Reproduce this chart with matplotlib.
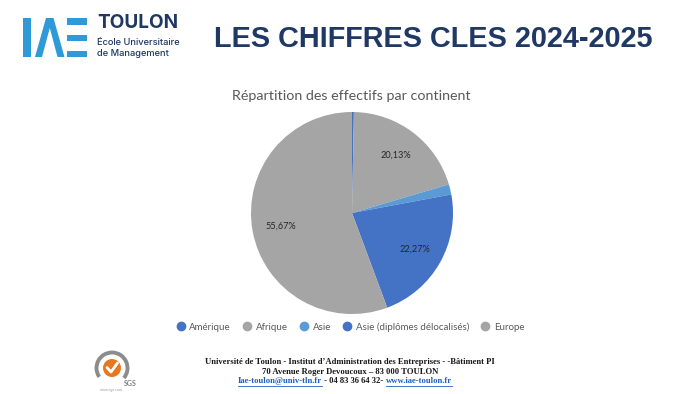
import matplotlib
matplotlib.use('Agg')
import matplotlib.pyplot as plt
from matplotlib import font_manager
from matplotlib.patches import Rectangle, Polygon, Circle, Arc
from matplotlib.lines import Line2D

# ---------------- data ----------------
categories = ['Amérique', 'Afrique', 'Asie', 'Asie (diplômes délocalisés)', 'Europe']
shares = [0.30, 20.13, 1.63, 22.27, 55.67]
colors = ['#4472C4', '#A5A5A5', '#5B9BD5', '#4472C4', '#A5A5A5']
show_pct = [False, True, False, True, True]

main_title = 'LES CHIFFRES CLES 2024-2025'
chart_title = 'Répartition des effectifs par continent'
logo_name = 'TOULON'
logo_sub = ['École Universitaire', 'de Management']
footer_line1 = 'Université de Toulon - Institut d’Administration des Entreprises - -Bâtiment PI'
footer_line2 = '70 Avenue Roger Devoucoux – 83 000 TOULON'
footer_mail = 'Iae-toulon@univ-tln.fr'
footer_phone = ' - 04 83 36 64 32- '
footer_web = 'www.iae-toulon.fr'

# ---------------- setup ----------------
W, H = 700, 394
fig = plt.figure(figsize=(7, 3.94), dpi=100)
fig.patch.set_facecolor('white')
renderer = fig.canvas.get_renderer()

available = {f.name for f in font_manager.fontManager.ttflist}
def pick(*names):
    for n in names:
        if n in available:
            return n
    return 'DejaVu Sans'

F_TITLE = pick('Liberation Sans Narrow', 'Liberation Sans', 'DejaVu Sans')
F_CAL = pick('Lato', 'Open Sans', 'DejaVu Sans')
F_LOGO = pick('Inter', 'Open Sans', 'DejaVu Sans')
F_SERIF = pick('Liberation Serif', 'DejaVu Serif')

def fx(x):
    return x / W
def fy(y):
    return 1 - y / H

def fit(t, width_px):
    bb = t.get_window_extent(renderer)
    t.set_fontsize(t.get_fontsize() * width_px / bb.width)
    return t

NAVY = '#1F3864'
LOGO_BLUE = '#2E9BD8'
GREY_TXT = '#595959'

# ---------------- overlay (logos) ----------------
ov = fig.add_axes([0, 0, 1, 1])
ov.set_xlim(0, W)
ov.set_ylim(H, 0)
ov.axis('off')

# IAE logo shapes
ov.add_patch(Rectangle((23, 18), 7.5, 39, color=LOGO_BLUE, lw=0))
ov.add_patch(Polygon([(35, 57), (46, 18), (53.5, 18), (64.5, 57), (57.5, 57),
                      (49.8, 28), (42, 57)], closed=True, color=LOGO_BLUE, lw=0))
ov.add_patch(Rectangle((67, 18), 20, 6.5, color=LOGO_BLUE, lw=0))
ov.add_patch(Rectangle((67, 34.5), 20, 6.5, color=LOGO_BLUE, lw=0))
ov.add_patch(Rectangle((67, 50.5), 20, 6.5, color=LOGO_BLUE, lw=0))

t = fig.text(fx(97), fy(28.5), logo_name, fontsize=11, fontweight='bold',
             color=NAVY, family=F_LOGO, ha='left', va='baseline')
fit(t, 81)
t1 = fig.text(fx(97), fy(45), logo_sub[0], fontsize=7, fontweight='medium',
              color=NAVY, family=F_LOGO, ha='left', va='baseline')
fit(t1, 84)
fig.text(fx(97), fy(55.5), logo_sub[1], fontsize=t1.get_fontsize(), fontweight='medium',
         color=NAVY, family=F_LOGO, ha='left', va='baseline')

# main title
tt = fig.text(fx(433), fy(47), main_title, fontsize=22, fontweight='bold',
              color=NAVY, family=F_TITLE, ha='center', va='baseline')
fit(tt, 438)

# chart title
ct = fig.text(fx(351), fy(96), chart_title, fontsize=10, color=GREY_TXT,
              family=F_CAL, ha='center', va='center')
fit(ct, 238)

# ---------------- pie ----------------
cx, cy, r = 352, 213, 101
ax = fig.add_axes([fx(cx - r), fy(cy + r), 2 * r / W, 2 * r / H])
flags = iter(show_pct)
def fmt(p):
    return (f'{p:.2f}%'.replace('.', ',')) if next(flags) else ''
wedges, _, autot = ax.pie(shares, colors=colors, startangle=90, counterclock=False,
                          radius=1, autopct=fmt, pctdistance=0.72,
                          wedgeprops=dict(linewidth=0),
                          textprops=dict(fontsize=6.6, color='#262626', family=F_CAL))
ax.set_xlim(-1, 1)
ax.set_ylim(-1, 1)
ax.set_aspect('equal')
ax.axis('off')

# legend
handles = [Line2D([], [], marker='o', linestyle='none', markersize=6,
                  markerfacecolor=c, markeredgecolor=c) for c in colors]
leg = fig.legend(handles, categories, loc='center', ncol=5,
                 bbox_to_anchor=(fx(351), fy(327)), frameon=False,
                 prop=dict(family=F_CAL, size=7.0), labelcolor=GREY_TXT,
                 handlelength=0.6, handletextpad=0.6, columnspacing=1.35,
                 borderpad=0, borderaxespad=0)

# ---------------- footer ----------------
l1 = fig.text(fx(350), fy(362), footer_line1, fontsize=6, fontweight='bold',
              family=F_SERIF, color='#1a1a1a', ha='center', va='center')
fit(l1, 292)
fs = l1.get_fontsize()
fig.text(fx(350), fy(371.5), footer_line2, fontsize=fs, fontweight='bold',
         family=F_SERIF, color='#1a1a1a', ha='center', va='center')

# third line: composite pieces
pieces = [(footer_mail, '#1F5FBF', True), (footer_phone, '#1a1a1a', False),
          (footer_web, '#1F5FBF', True)]
objs = []
for txt, col, ul in pieces:
    o = fig.text(0, fy(381), txt, fontsize=fs, fontweight='bold', family=F_SERIF,
                 color=col, ha='left', va='center')
    objs.append((o, ul, col))
widths = [o.get_window_extent(renderer).width for o, _, _ in objs]
total = sum(widths)
x0 = 345 - total / 2
for (o, ul, col), w in zip(objs, widths):
    o.set_x(fx(x0))
    if ul:
        ov.add_line(Line2D([x0, x0 + w], [385.5, 385.5], color=col, lw=0.6))
    x0 += w

# SGS logo
ov.add_patch(Arc((112, 368), 31, 31, theta1=-215, theta2=40, color='#8C8C8C', lw=2.8))
ov.add_patch(Circle((112, 368), 9, color='#E87722', lw=0))
ov.add_line(Line2D([107, 111, 117.5], [367.5, 372, 363], color='white', lw=2.0,
                   solid_capstyle='round'))
fig.text(fx(130), fy(383), 'SGS', fontsize=5, fontweight='bold', color='#7F7F7F',
         ha='center', va='center', family=F_CAL)
fig.text(fx(112), fy(390), 'www.sgs.com', fontsize=2.8, color='#9F9F9F',
         ha='center', va='center', family=F_CAL)

fig.savefig('out.png', dpi=100, facecolor='white')
